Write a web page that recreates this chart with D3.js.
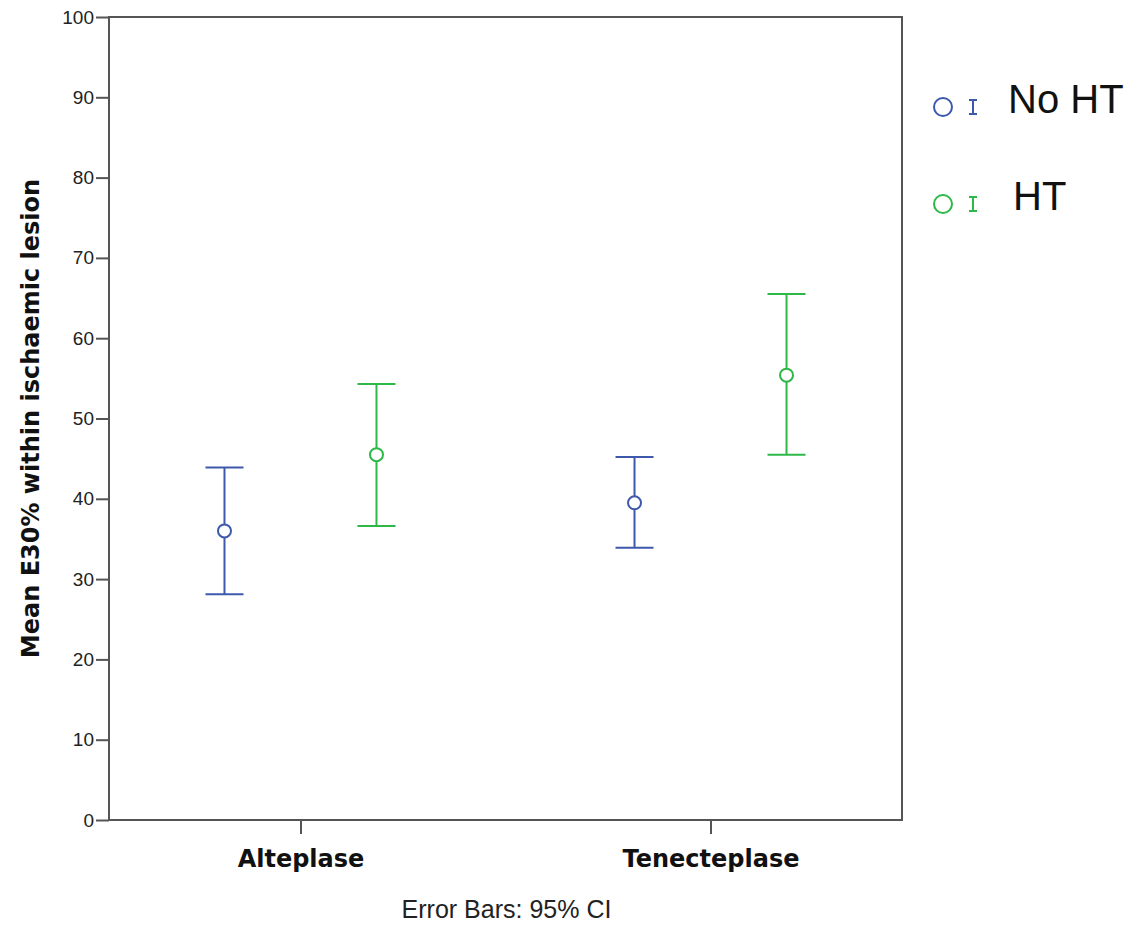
<!DOCTYPE html>
<html>
<head>
<meta charset="utf-8">
<script src="https://cdn.jsdelivr.net/npm/d3@7"></script>
<style>
  body { margin: 0; background: #fff; }
  svg text { font-family: "Liberation Sans", Arial, sans-serif; }
  svg text.bold { font-family: "DejaVu Sans", Verdana, sans-serif; font-weight: bold; }
</style>
</head>
<body>
<div id="chart"></div>
<script>
// data
const categories = ['Alteplase', 'Tenecteplase'];
const groups = ['No HT', 'HT'];
const means = { 'No HT': [36.0, 39.5], 'HT': [45.5, 55.4] };
const lower = { 'No HT': [28.1, 33.9], 'HT': [36.6, 45.5] };
const upper = { 'No HT': [43.9, 45.2], 'HT': [54.3, 65.5] };
const yTicks = [0, 10, 20, 30, 40, 50, 60, 70, 80, 90, 100];
const colors = { 'No HT': '#3e58ac', 'HT': '#2eb848' };

const W = 1145, H = 928;
const margin = { top: 17, right: 243, bottom: 108, left: 109 };
const iw = W - margin.left - margin.right;
const ih = H - margin.top - margin.bottom;

const svg = d3.select('#chart').append('svg')
  .attr('width', W).attr('height', H);

const g = svg.append('g').attr('transform', `translate(${margin.left},${margin.top})`);

const x = d3.scalePoint().domain(categories).range([0, iw]).padding(0.467);
const offset = d3.scalePoint().domain(groups).range([-76, 76]);
const y = d3.scaleLinear().domain([0, 100]).range([ih, 0]);

// frame
g.append('rect')
  .attr('width', iw).attr('height', ih)
  .attr('fill', 'none').attr('stroke', '#555').attr('stroke-width', 2);

// y axis
const yAxis = g.append('g')
  .call(d3.axisLeft(y).tickValues(yTicks).tickSize(13).tickPadding(2));
yAxis.select('.domain').remove();
yAxis.selectAll('line').attr('stroke', '#555').attr('stroke-width', 2);
yAxis.selectAll('text').attr('font-size', 19).attr('fill', '#222');

// x axis
const xAxis = g.append('g').attr('transform', `translate(0,${ih})`)
  .call(d3.axisBottom(x).tickSize(14).tickPadding(16));
xAxis.select('.domain').remove();
xAxis.selectAll('line').attr('stroke', '#555').attr('stroke-width', 2);
xAxis.selectAll('text').attr('class', 'bold').attr('font-size', 24).attr('fill', '#111');

// error bars
const rows = [];
groups.forEach(gr => categories.forEach((c, i) => rows.push({
  group: gr, cat: c, mean: means[gr][i], lo: lower[gr][i], hi: upper[gr][i]
})));

const cap = 19;
const bars = g.selectAll('.bar').data(rows).join('g')
  .attr('class', 'bar')
  .attr('transform', d => `translate(${x(d.cat) + offset(d.group)},0)`)
  .attr('stroke', d => colors[d.group])
  .attr('stroke-width', 2)
  .attr('fill', 'none');

bars.append('line').attr('y1', d => y(d.lo)).attr('y2', d => y(d.hi));
bars.append('line').attr('x1', -cap).attr('x2', cap).attr('y1', d => y(d.hi)).attr('y2', d => y(d.hi));
bars.append('line').attr('x1', -cap).attr('x2', cap).attr('y1', d => y(d.lo)).attr('y2', d => y(d.lo));
bars.append('circle').attr('cy', d => y(d.mean)).attr('r', 6.5).attr('fill', '#fff');

// y title
svg.append('text')
  .attr('class', 'bold')
  .attr('transform', `translate(39,${margin.top + ih / 2}) rotate(-90)`)
  .attr('text-anchor', 'middle')
  .attr('font-size', 24).attr('fill', '#111')
  .text('Mean E30% within ischaemic lesion');

// footnote
svg.append('text')
  .attr('x', margin.left + iw / 2 + 1).attr('y', 918)
  .attr('text-anchor', 'middle')
  .attr('font-size', 25).attr('fill', '#222')
  .text('Error Bars: 95% CI');

// legend
const legend = svg.selectAll('.leg').data(groups).join('g')
  .attr('class', 'leg')
  .attr('transform', (d, i) => `translate(943,${107 + i * 97})`);
legend.append('circle').attr('r', 9).attr('fill', 'none')
  .attr('stroke', d => colors[d]).attr('stroke-width', 2);
legend.append('path')
  .attr('d', 'M26,-7H34M30,-7V7M26,7H34')
  .attr('fill', 'none').attr('stroke', d => colors[d]).attr('stroke-width', 2);
legend.append('text')
  .attr('x', (d, i) => i === 0 ? 65 : 70).attr('y', 6)
  .attr('font-size', 40).attr('fill', '#111')
  .text(d => d);
</script>
</body>
</html>
